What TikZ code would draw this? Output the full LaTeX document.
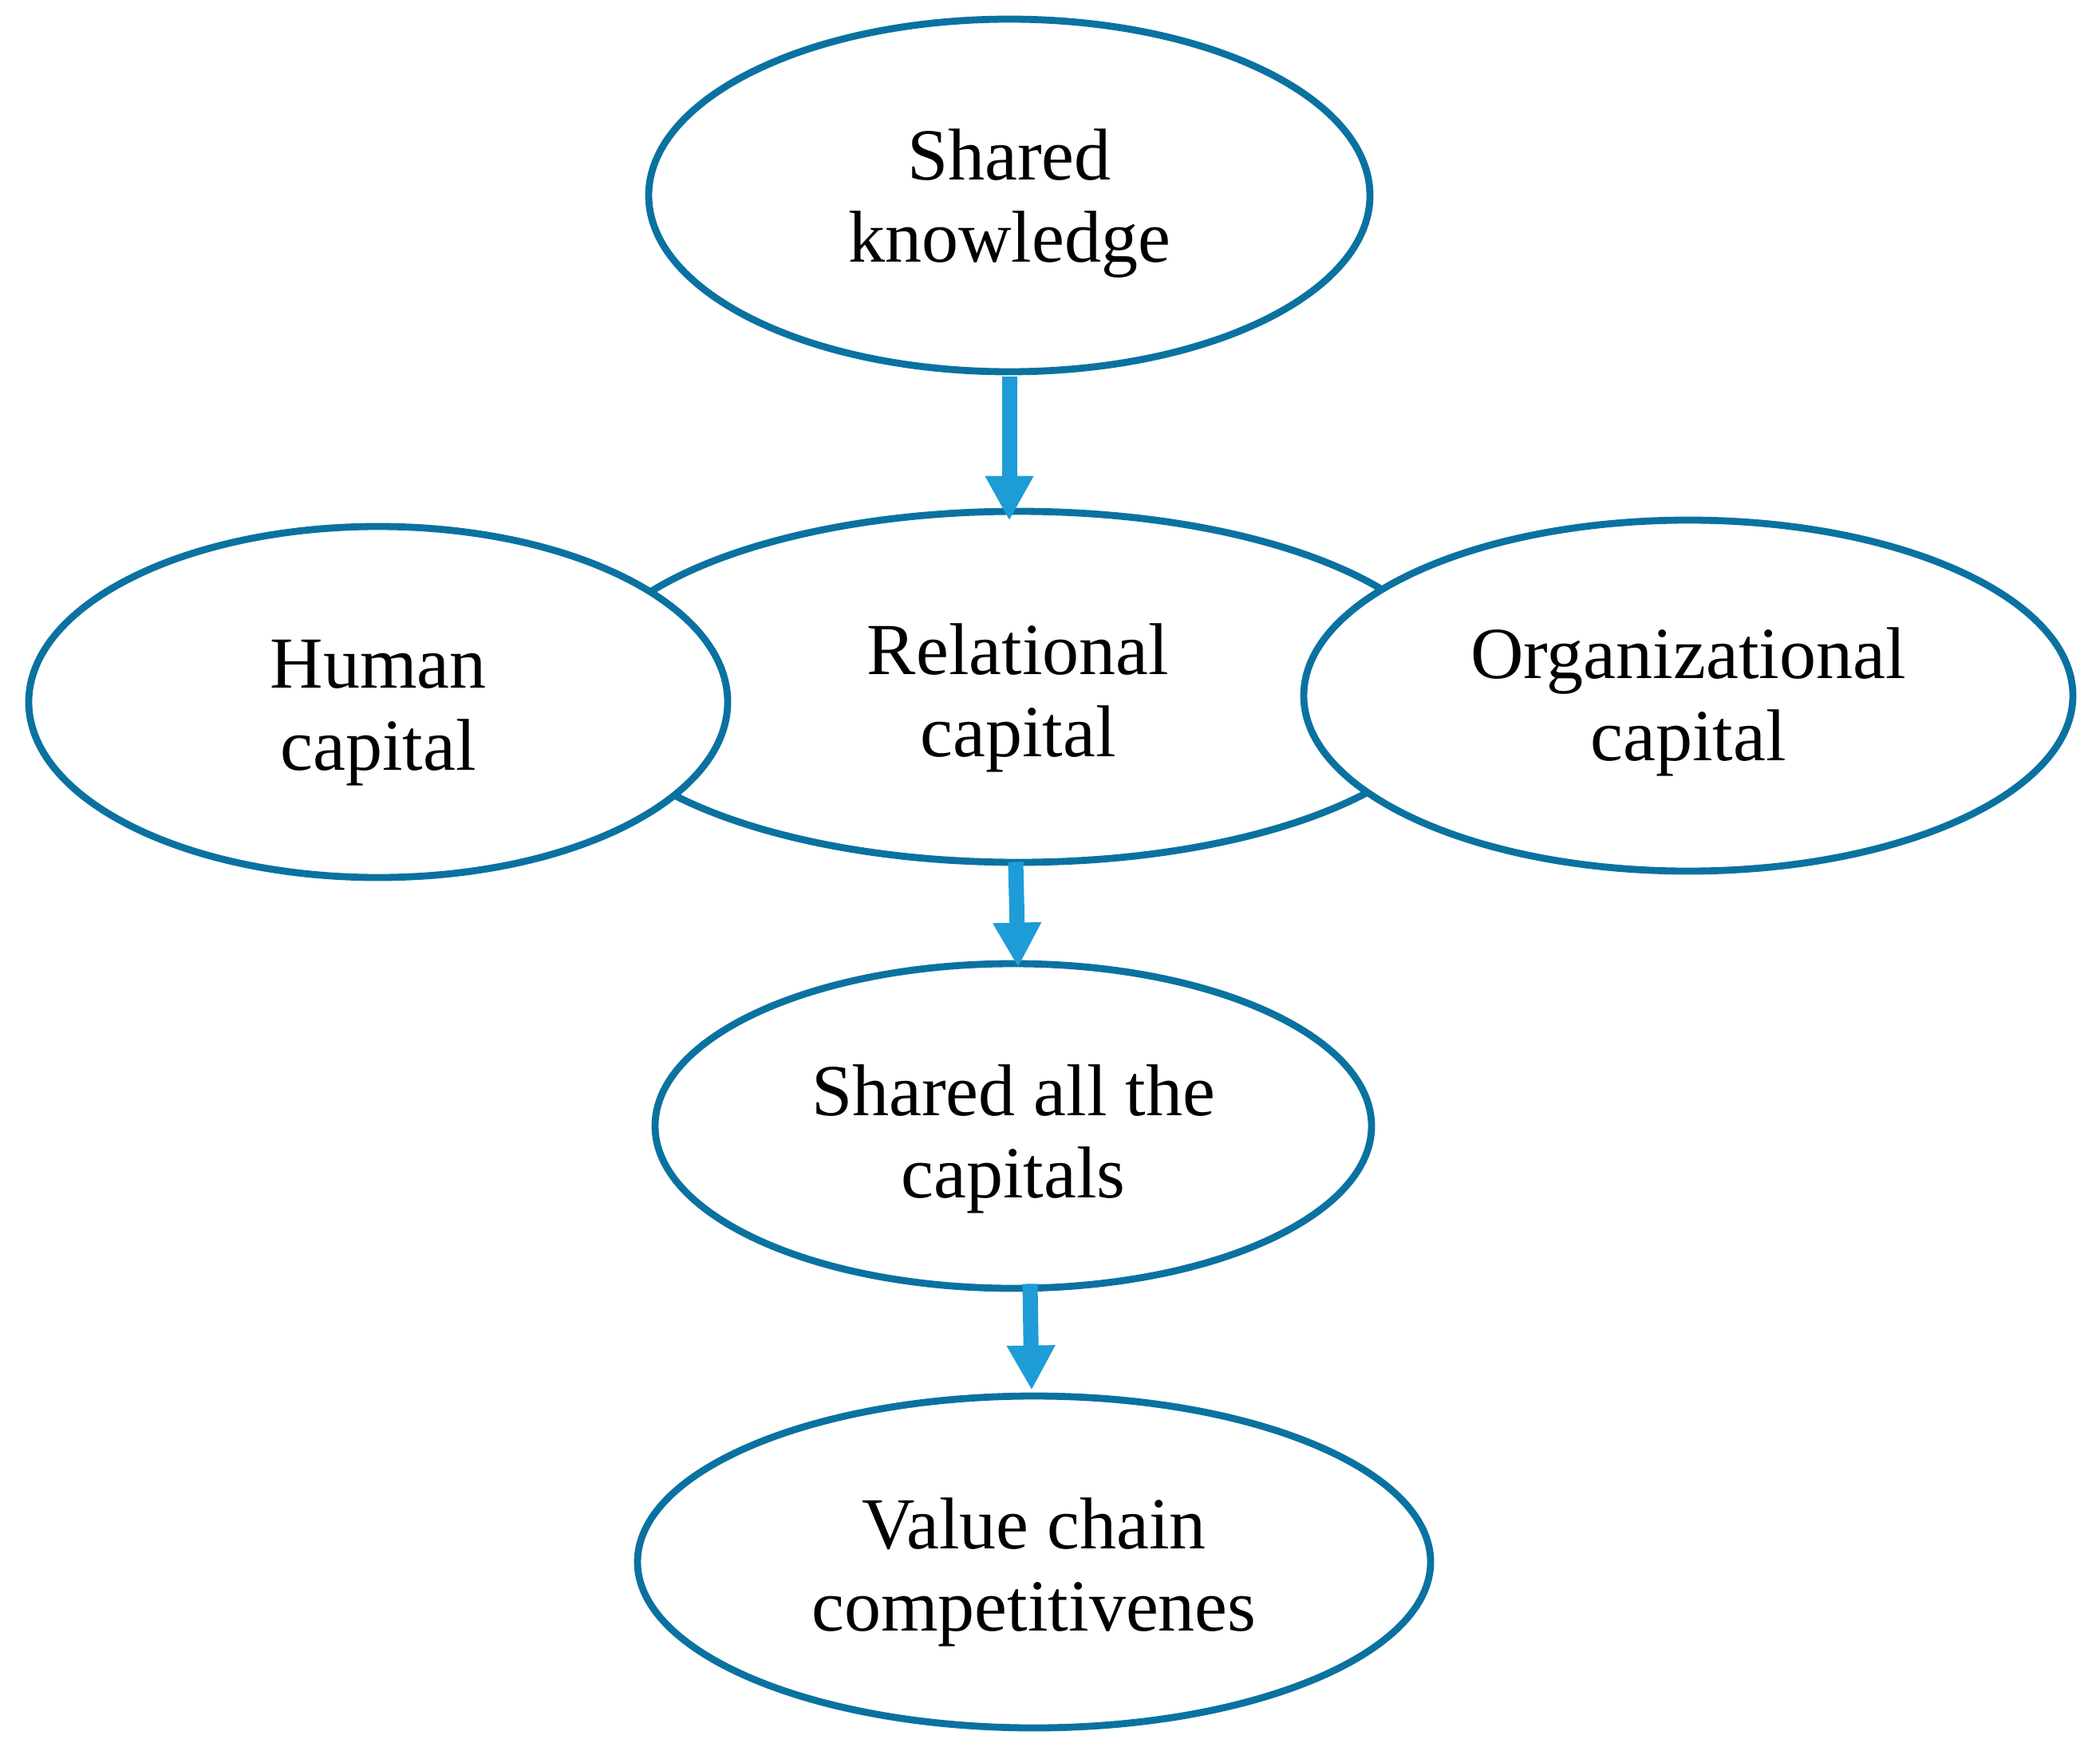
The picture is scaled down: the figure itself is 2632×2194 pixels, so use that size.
\documentclass[tikz,border=0pt]{standalone}
\usepackage{fontspec}
\setmainfont{Liberation Serif}
\usetikzlibrary{shapes.geometric,arrows.meta,calc}
\definecolor{ring}{RGB}{10,114,160}
\definecolor{flow}{RGB}{30,156,216}
\begin{document}
\begin{tikzpicture}[x=0.25pt,y=-0.25pt,
  oval/.style={ellipse,draw=ring,line width=2.2pt,fill=white,inner sep=0pt},
  lbl/.style={align=center,font=\fontsize{23}{25.75}\selectfont,inner sep=0pt},
  flowarrow/.style={draw=flow,line width=4.75pt,-{Triangle[length=14pt,width=14.25pt]}}]
\useasboundingbox (0,0) rectangle (2632,2194);
% ellipses
\node[oval,minimum width=226pt,minimum height=110.5pt] (sk) at (1265,245) {};
\node[oval,minimum width=274pt,minimum height=110pt] (rc) at (1276,861) {};
\node[oval,minimum width=219pt,minimum height=110pt] (hc) at (474,880) {};
\node[oval,minimum width=241pt,minimum height=110pt] (oc) at (2116,872) {};
\node[oval,minimum width=224.5pt,minimum height=101.75pt] (sa) at (1270,1411.5) {};
\node[oval,minimum width=248.5pt,minimum height=104pt] (vc) at (1296,1958) {};
% labels
\node[lbl] (skt) at ($(sk)+(0,10)$) {Shared\\knowledge};
\node[lbl] (rct) at ($(rc)+(0,14)$) {Relational\\capital};
\node[lbl] (hct) at ($(hc)+(0,14)$) {Human\\capital};
\node[lbl] (oct) at ($(oc)+(0,8)$) {Organizational\\capital};
\node[lbl] (sat) at ($(sa)+(0,16)$) {Shared all the\\capitals};
\node[lbl] (vct) at ($(vc)+(0,13)$) {Value chain\\competitivenes};
% connectors
\draw[flowarrow] ($(sk.south)+(0,2)$) -- ($(rc.north)+(-11,16)$);
\draw[flowarrow] ($(rc.south)+(-3,-5)$) -- ($(sa.north)+(6,9)$);
\draw[flowarrow] ($(sa.south)+(21,-10)$) -- ($(vc.north)+(-3,-3)$);
\end{tikzpicture}
\end{document}
